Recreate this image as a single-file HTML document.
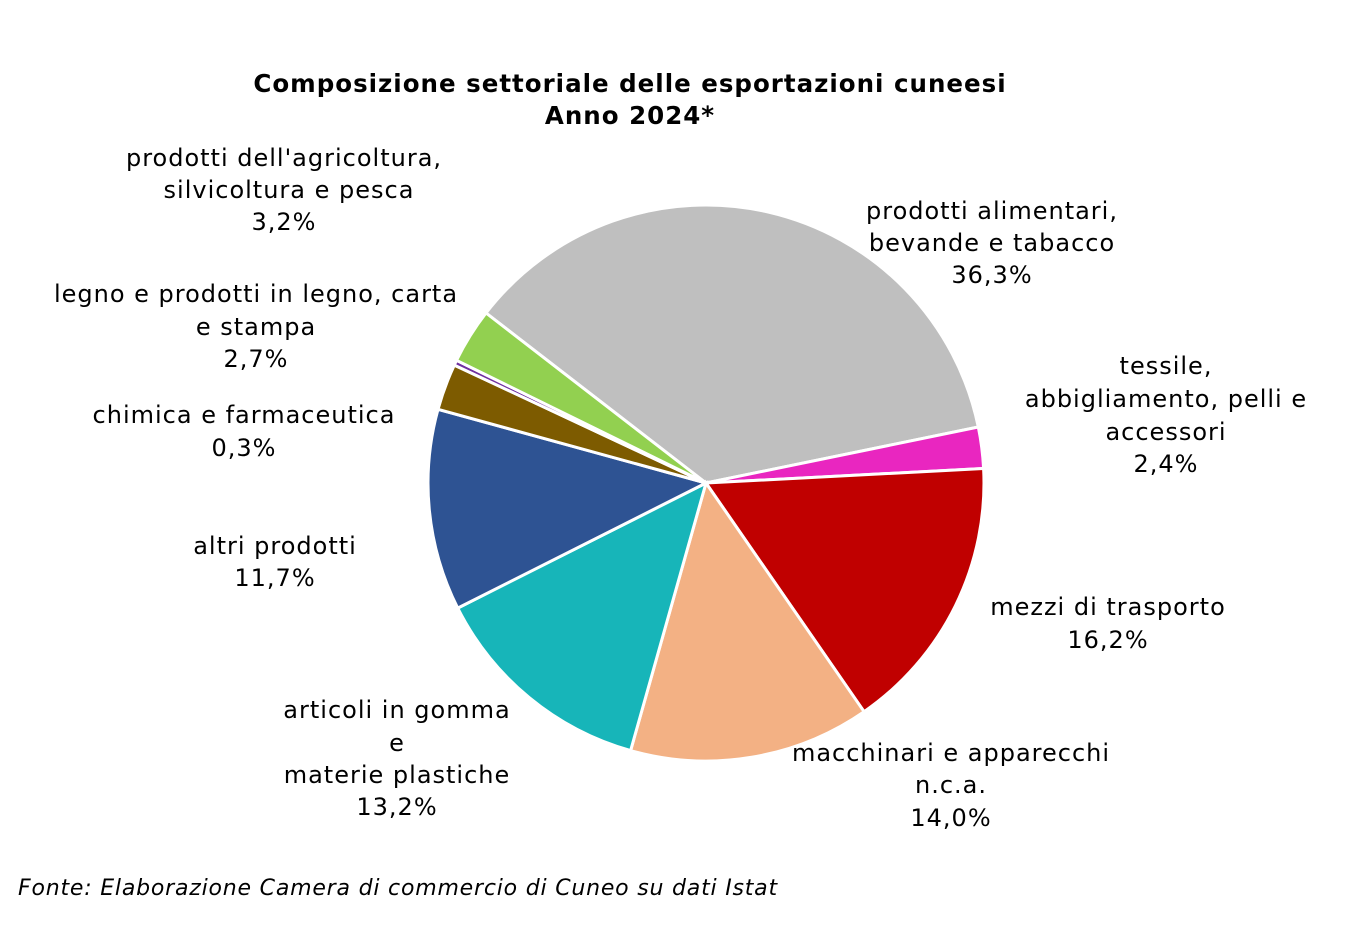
<!DOCTYPE html>
<html><head><meta charset="utf-8"><style>
body{margin:0;background:#fff;width:1354px;height:928px;overflow:hidden}
svg text{font-family:"DejaVu Sans","Liberation Sans",sans-serif;font-size:24px;letter-spacing:1px;fill:#000}
</style></head><body>
<svg id="s" width="1354" height="928" xmlns="http://www.w3.org/2000/svg">
<g id="pie"></g>
<text x="630" y="92" text-anchor="middle" style="font-weight:bold;font-size:24.5px">Composizione settoriale delle esportazioni cuneesi</text>
<text x="630" y="124" text-anchor="middle" style="font-weight:bold;font-size:24.5px">Anno 2024*</text>
<g text-anchor="middle">
<text x="284" y="166">prodotti dell'agricoltura,</text>
<text x="289" y="198">silvicoltura e pesca</text>
<text x="284" y="230">3,2%</text>
<text x="256" y="302">legno e prodotti in legno, carta</text>
<text x="256" y="335">e stampa</text>
<text x="256" y="367">2,7%</text>
<text x="244" y="423">chimica e farmaceutica</text>
<text x="244" y="456">0,3%</text>
<text x="275" y="554">altri prodotti</text>
<text x="275" y="586">11,7%</text>
<text x="397" y="718">articoli in gomma</text>
<text x="397" y="751">e</text>
<text x="397" y="783">materie plastiche</text>
<text x="397" y="815">13,2%</text>
<text x="951" y="761">macchinari e apparecchi</text>
<text x="951" y="793">n.c.a.</text>
<text x="951" y="826">14,0%</text>
<text x="1108" y="615">mezzi di trasporto</text>
<text x="1108" y="648">16,2%</text>
<text x="1166" y="374">tessile,</text>
<text x="1166" y="407">abbigliamento, pelli e</text>
<text x="1166" y="440">accessori</text>
<text x="1166" y="472">2,4%</text>
<text x="992" y="219">prodotti alimentari,</text>
<text x="992" y="251">bevande e tabacco</text>
<text x="992" y="283">36,3%</text>
</g>
<text x="18" y="895" style="font-style:italic;font-size:22px;letter-spacing:0.8px">Fonte: Elaborazione Camera di commercio di Cuneo su dati Istat</text>
</svg>
<script>
var cx=706,cy=483,r=278,a=-52.3;
var d=[[36.3,"#bfbfbf"],[2.4,"#e926c0"],[16.2,"#c00000"],[14.0,"#f3b184"],[13.2,"#17b5b9"],[11.7,"#2e5393"],[2.7,"#7d5b00"],[0.3,"#7030a0"],[3.2,"#92d050"]];
var g=document.getElementById("pie"),h="";
function p(t){t=t*Math.PI/180;return [cx+r*Math.sin(t),cy-r*Math.cos(t)];}
d.forEach(function(s){var e=a+s[0]*3.6,p1=p(a),p2=p(e);
h+='<path d="M'+cx+','+cy+'L'+p1[0].toFixed(1)+','+p1[1].toFixed(1)+'A'+r+','+r+' 0 '+(e-a>180?1:0)+' 1 '+p2[0].toFixed(1)+','+p2[1].toFixed(1)+'Z" fill="'+s[1]+'" stroke="#fff" stroke-width="3"/>';a=e;});
g.innerHTML=h;
</script>
</body></html>
